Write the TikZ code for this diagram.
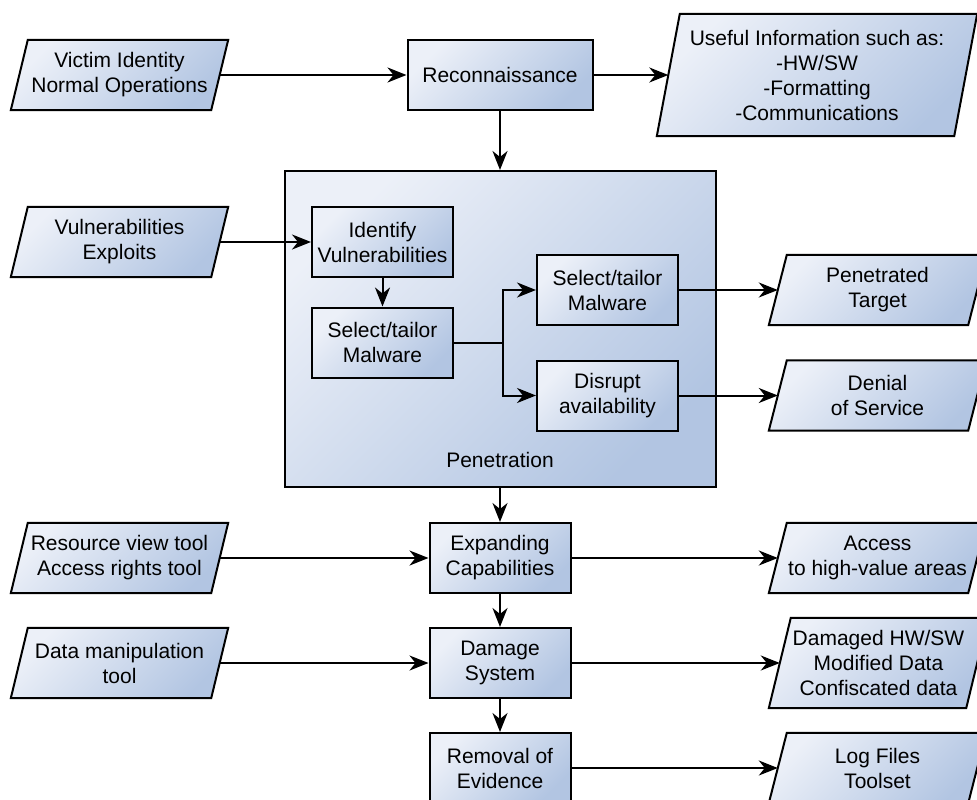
\documentclass[tikz,border=0pt]{standalone}
\usepackage{fontspec}
\setmainfont{Liberation Sans}
\usetikzlibrary{arrows.meta,backgrounds}
\definecolor{fl}{RGB}{236,240,248}
\definecolor{fd}{RGB}{178,197,226}
\tikzset{
  shadefill/.style={top color=fl, bottom color=fd, shading angle=45},
  boxnode/.style={draw=black, line width=2pt, shadefill, rectangle, align=center, inner sep=0pt, minimum width=141, minimum height=70},
  ptext/.style={rectangle, align=center, inner sep=0pt, minimum width=200, minimum height=70},
  pline/.style={draw=black, line width=2pt, shadefill, line join=miter},
  arr/.style={line width=2pt, -{Stealth[length=19pt,width=15pt,inset=6pt]}},
  ln/.style={line width=2pt}
}
\newcommand{\parafill}[2]{\path[pline] ([xshift=#2]#1.north west) -- ([xshift=#2]#1.north east) -- ([xshift=-#2]#1.south east) -- ([xshift=-#2]#1.south west) -- cycle;}
\begin{document}
\begin{tikzpicture}[x=1pt,y=-1pt,font=\fontsize{21}{25}\selectfont]
\useasboundingbox (0,0) rectangle (977,800);
% left inputs
\node[ptext] (vic) at (119.5,75) {Victim Identity\\Normal Operations};
\node[ptext] (vul) at (119.5,242) {Vulnerabilities\\Exploits};
\node[ptext] (res) at (119.5,558) {Resource view tool\\Access rights tool};
\node[ptext] (dat) at (119.5,663) {Data manipulation\\tool};
% main column
\node[boxnode, minimum width=185] (rec) at (500,75) {Reconnaissance};
\node[boxnode, minimum width=431, minimum height=316] (pen) at (500,329) {};
\node (penl) at (500,460) {Penetration};
\node[boxnode] (idv) at (382.5,242) {Identify\\Vulnerabilities};
\node[boxnode] (sel1) at (382.5,342.5) {Select/tailor\\Malware};
\node[boxnode] (sel2) at (607.5,290) {Select/tailor\\Malware};
\node[boxnode] (dis) at (607.5,395.5) {Disrupt\\availability};
\node[boxnode] (exp) at (500,558) {Expanding\\Capabilities};
\node[boxnode] (dam) at (500,663) {Damage\\System};
\node[boxnode] (rem) at (500,768) {Removal of\\Evidence};
% right outputs
\node[ptext, minimum width=297, minimum height=122] (use) at (817,75) {Useful Information such as:\\-HW/SW\\-Formatting\\-Communications};
\node[ptext, minimum width=199] (pt) at (877.5,290) {Penetrated\\Target};
\node[ptext, minimum width=199] (dos) at (877.5,395.5) {Denial\\of Service};
\node[ptext, minimum width=199] (acc) at (877.5,558) {Access\\to high-value areas};
\node[ptext, minimum width=197, minimum height=90] (dmg) at (878.5,663) {Damaged HW/SW\\Modified Data\\Confiscated data};
\node[ptext, minimum width=199] (log) at (877.5,768) {Log Files\\Toolset};
\begin{scope}[on background layer]
\parafill{vic}{8.5}
\parafill{vul}{8.5}
\parafill{res}{8.5}
\parafill{dat}{8.5}
\parafill{use}{11.5}
\parafill{pt}{9}
\parafill{dos}{9}
\parafill{acc}{9}
\parafill{dmg}{11}
\parafill{log}{9}
\end{scope}
% connectors
\draw[arr] (vic.east) -- (rec.west);
\draw[arr] (rec.east) -- (use.west);
\draw[arr] (rec.south) -- (pen.north);
\draw[arr] (vul.east) -- (idv.west);
\draw[arr] (idv.south) -- (sel1.north);
\coordinate (j) at (503,342.5);
\draw[ln] (sel1.east) -- (j);
\draw[arr] (j) |- (sel2.west);
\draw[arr] (j) |- (dis.west);
\draw[arr] (sel2.east) -- (pt.west);
\draw[arr] (dis.east) -- (dos.west);
\draw[arr] (pen.south) -- (exp.north);
\draw[arr] (res.east) -- (exp.west);
\draw[arr] (exp.east) -- (acc.west);
\draw[arr] (exp.south) -- (dam.north);
\draw[arr] (dat.east) -- (dam.west);
\draw[arr] (dam.east) -- (dmg.west);
\draw[arr] (dam.south) -- (rem.north);
\draw[arr] (rem.east) -- (log.west);
\end{tikzpicture}
\end{document}
